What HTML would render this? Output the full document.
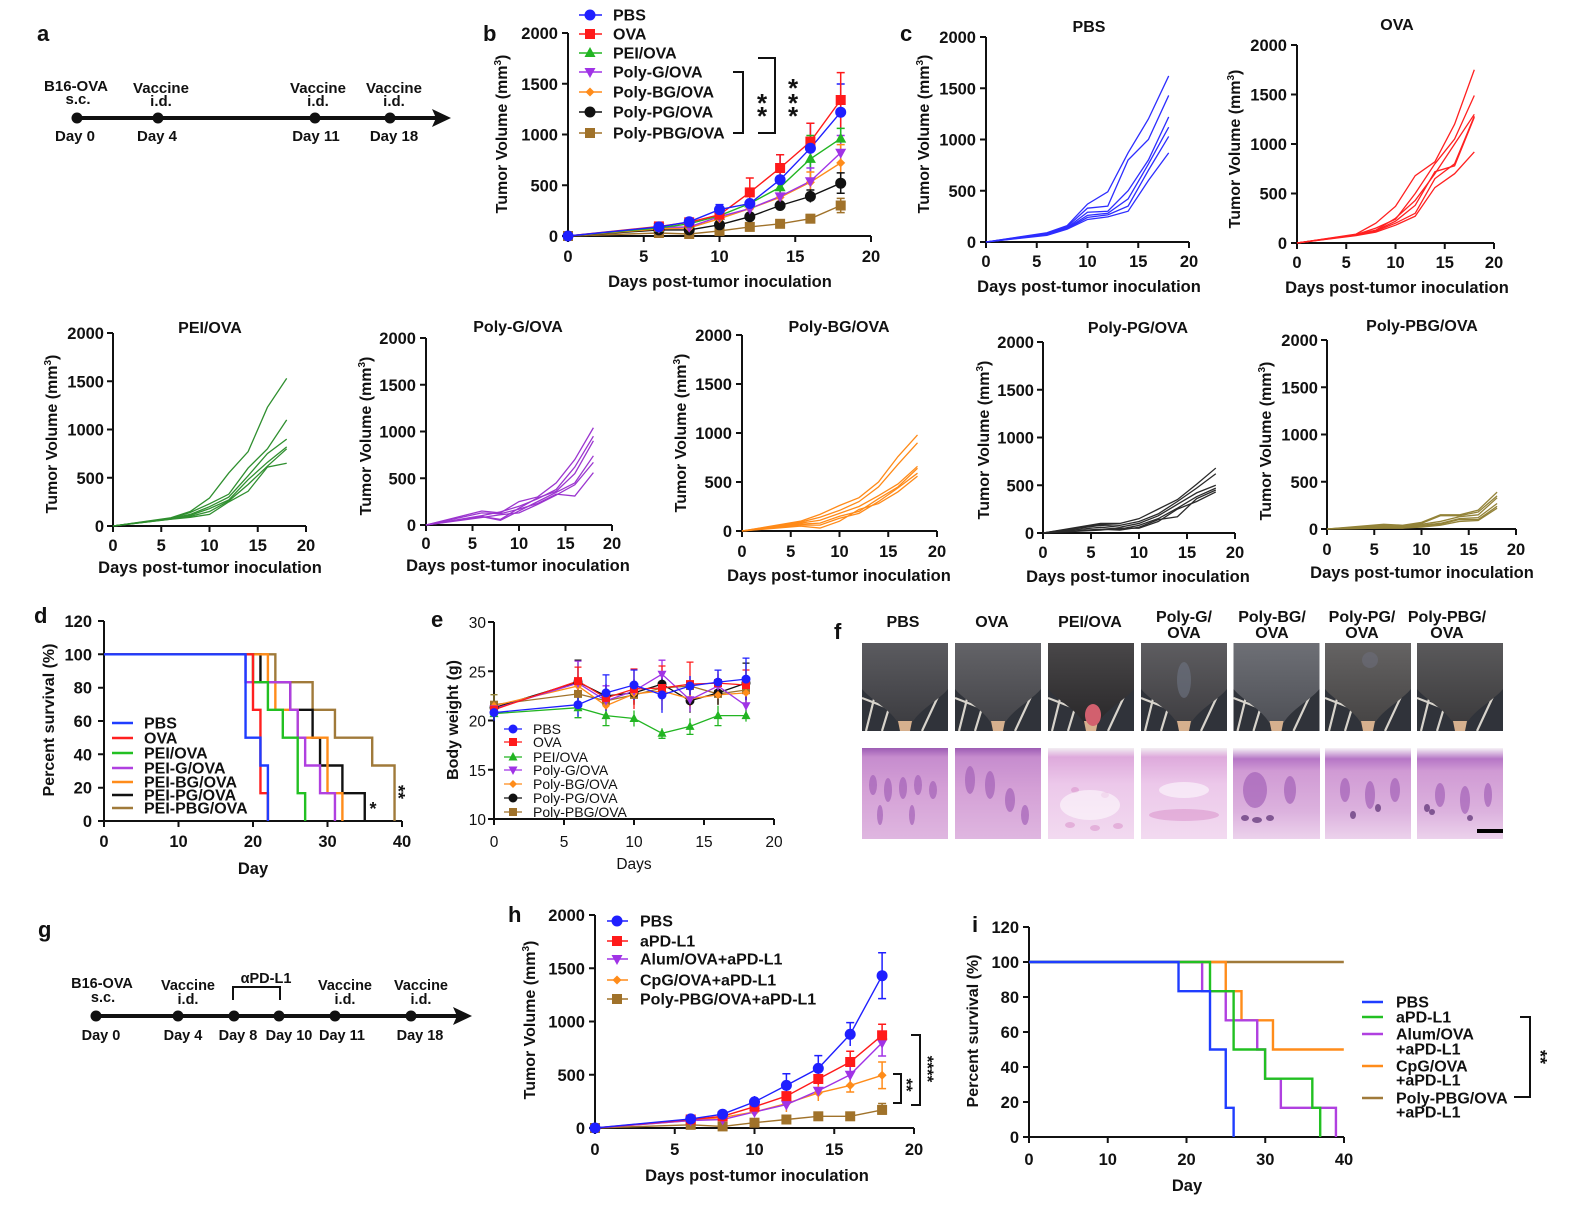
<!DOCTYPE html>
<html><head><meta charset="utf-8">
<style>
html,body{margin:0;padding:0;background:#fff;}
svg{display:block;}
text{font-family:"Liberation Sans",Arial,sans-serif;font-weight:bold;font-size:16.5px;fill:#111;}
.v *{vector-effect:non-scaling-stroke;}
.ax{stroke:#111;stroke-width:2;fill:none;}
.r{text-anchor:end;}
.m{text-anchor:middle;}
.n{font-weight:normal;}
.lg{font-size:16px;}
.at{font-size:16px;}
</style></head><body>
<svg width="1572" height="1215" viewBox="0 0 1572 1215" xmlns="http://www.w3.org/2000/svg">
<defs>
<circle id="mc" r="5.5"/>
<rect id="ms" x="-5" y="-5" width="10" height="10"/>
<path id="mtu" d="M0,-6 L5.5,4 L-5.5,4Z"/>
<path id="mtd" d="M0,6 L5.5,-4 L-5.5,-4Z"/>
<path id="mdi" d="M0,-4.5 L4.5,0 L0,4.5 L-4.5,0Z"/>
<circle id="ec" r="4.5"/>
<rect id="es" x="-4" y="-4" width="8" height="8"/>
<path id="etu" d="M0,-5 L4.5,3.5 L-4.5,3.5Z"/>
<path id="etd" d="M0,5 L4.5,-3.5 L-4.5,-3.5Z"/>
<path id="edi" d="M0,-4 L4,0 L0,4 L-4,0Z"/>
<linearGradient id="fur" x1="0" y1="0" x2="0" y2="1">
<stop offset="0" stop-color="#fff" stop-opacity="0.12"/><stop offset="1" stop-color="#000" stop-opacity="0.12"/></linearGradient>
<symbol id="ph" viewBox="0 0 86 88">
<rect width="86" height="88" fill="#30333a"/>
<path d="M4,88 L16,40 M20,88 L30,55 M60,88 L80,45 M0,55 L44,72" stroke="#d8d4cc" stroke-width="2.2" fill="none"/>
<path d="M0,0H86V46C76,58 58,66 50,80H36C28,66 10,58 0,46Z" fill="currentColor"/>
<path d="M0,0H86V46C76,58 58,66 50,80H36C28,66 10,58 0,46Z" fill="url(#fur)"/>
<path d="M36,78 H50 L48,88 H38 Z" fill="#d6b08e"/>
</symbol>
<linearGradient id="hg" x1="0" y1="0" x2="0" y2="1">
<stop offset="0" stop-color="#9c5cb4"/><stop offset="0.1" stop-color="#c68cce"/><stop offset="0.45" stop-color="#d4a0d6"/><stop offset="1" stop-color="#dfb6e0"/></linearGradient>
<linearGradient id="hg2" x1="0" y1="0" x2="0" y2="1">
<stop offset="0" stop-color="#f2eef2"/><stop offset="0.1" stop-color="#deaadc"/><stop offset="0.4" stop-color="#ecc8ea"/><stop offset="1" stop-color="#f2daf0"/></linearGradient>
<linearGradient id="hg3" x1="0" y1="0" x2="0" y2="1">
<stop offset="0" stop-color="#f6f2f6"/><stop offset="0.12" stop-color="#b676c6"/><stop offset="0.25" stop-color="#d09ad4"/><stop offset="0.7" stop-color="#dcb2de"/><stop offset="1" stop-color="#ecd2ec"/></linearGradient>
</defs>
<rect width="1572" height="1215" fill="#fff"/>

<!-- Panel labels -->
<text x="37" y="41" style="font-size:22px">a</text>
<text x="483" y="41" style="font-size:22px">b</text>
<text x="900" y="41" style="font-size:22px">c</text>
<text x="34" y="623" style="font-size:22px">d</text>
<text x="431" y="627" style="font-size:22px">e</text>
<text x="834" y="639" style="font-size:22px">f</text>
<text x="38" y="937" style="font-size:22px">g</text>
<text x="508" y="922" style="font-size:22px">h</text>
<text x="972" y="932" style="font-size:22px">i</text>

<!-- Panel a timeline -->
<g style="font-size:15px">
<line x1="77" y1="118" x2="438" y2="118" stroke="#111" stroke-width="4"/>
<path d="M432,109 L451,118 L432,127 L436,118Z" fill="#111"/>
<circle cx="77" cy="118" r="5.5" fill="#111"/><circle cx="158" cy="118" r="5.5" fill="#111"/><circle cx="315" cy="118" r="5.5" fill="#111"/><circle cx="390" cy="118" r="5.5" fill="#111"/>
<text class="m" x="76" y="91" style="font-size:15px">B16-OVA</text><text class="m" x="78" y="104" style="font-size:15px">s.c.</text>
<text class="m" x="161" y="93" style="font-size:15px">Vaccine</text><text class="m" x="161" y="106" style="font-size:15px">i.d.</text>
<text class="m" x="318" y="93" style="font-size:15px">Vaccine</text><text class="m" x="318" y="106" style="font-size:15px">i.d.</text>
<text class="m" x="394" y="93" style="font-size:15px">Vaccine</text><text class="m" x="394" y="106" style="font-size:15px">i.d.</text>
<text class="m" x="75" y="141" style="font-size:15px">Day 0</text><text class="m" x="157" y="141" style="font-size:15px">Day 4</text><text class="m" x="316" y="141" style="font-size:15px">Day 11</text><text class="m" x="394" y="141" style="font-size:15px">Day 18</text>
</g>

<!-- Panel b -->
<path class="ax" d="M568,33V236H871 M562,33H568 M562,83.75H568 M562,134.5H568 M562,185.25H568 M562,236H568 M568,236V242 M643.75,236V242 M719.5,236V242 M795.25,236V242 M871,236V242"/>
<text class="r" x="558" y="39">2000</text><text class="r" x="558" y="89.75">1500</text><text class="r" x="558" y="140.5">1000</text><text class="r" x="558" y="191.25">500</text><text class="r" x="558" y="242">0</text>
<text class="m" x="568" y="262">0</text><text class="m" x="643.75" y="262">5</text><text class="m" x="719.5" y="262">10</text><text class="m" x="795.25" y="262">15</text><text class="m" x="871" y="262">20</text>
<text class="m" x="720" y="287">Days post-tumor inoculation</text>
<text class="m at" transform="translate(507,134) rotate(-90)">Tumor Volume (mm<tspan dy="-6" style="font-size:10px">3</tspan><tspan dy="6">)</tspan></text>
<g fill="none" stroke-width="1.5">
<path stroke="#1f1fff" d="M719.5,204.6V214.7M715.5,204.6h8M749.8,195.4V211.6M745.8,195.4h8M780.1,154.8V204.5M776.1,154.8h8M810.4,123.3V173M806.4,123.3h8M840.7,84V140.6M836.7,84h8"/>
<path stroke="#ff1a1a" d="M749.8,178V207.4M745.8,178h8M780.1,154.8V181.2M776.1,154.8h8M810.4,123.3V159.8M806.4,123.3h8M840.7,72.6V127.4M836.7,72.6h8"/>
<path stroke="#22b522" d="M780.1,177V197.5M776.1,177h8M810.4,135.5V182.4M806.4,135.5h8M840.7,128.4V148.7M836.7,128.4h8"/>
<path stroke="#a033e6" d="M810.4,168V194.4M806.4,168h8M840.7,135.5V170M836.7,135.5h8"/>
<path stroke="#ff8c1a" d="M810.4,172V192M806.4,172h8M840.7,144.6V181.2M836.7,144.6h8"/>
<path stroke="#111" d="M810.4,190V202.5M806.4,190h8M840.7,172.9V193.2M836.7,172.9h8M836.7,193.2h8"/>
<path stroke="#a0722a" d="M810.4,214.6V222.8M806.4,214.6h8M840.7,198.4V212.6M836.7,198.4h8M836.7,212.6h8"/>
</g>
<g fill="none" stroke-width="1.4">
<polyline stroke="#a0722a" points="568,236 658.9,233 689.2,234 719.5,230.9 749.8,226.9 780.1,223.8 810.4,218.7 840.7,205.5"/>
<polyline stroke="#111" points="568,236 658.9,229.9 689.2,229.9 719.5,224.8 749.8,216.7 780.1,205.5 810.4,196.4 840.7,183.2"/>
<polyline stroke="#ff8c1a" points="568,236 658.9,228.9 689.2,227.9 719.5,218.7 749.8,208.6 780.1,197.4 810.4,182.2 840.7,162.9"/>
<polyline stroke="#a033e6" points="568,236 658.9,227.4 689.2,226.9 719.5,216.7 749.8,208.6 780.1,196.4 810.4,181.2 840.7,152.8"/>
<polyline stroke="#22b522" points="568,236 658.9,227.9 689.2,223.8 719.5,215.7 749.8,203.5 780.1,187.3 810.4,158.9 840.7,138.6"/>
<polyline stroke="#ff1a1a" points="568,236 658.9,226.4 689.2,222.3 719.5,214.7 749.8,192.4 780.1,168 810.4,141.6 840.7,100"/>
<polyline stroke="#1f1fff" points="568,236 658.9,226.9 689.2,221.8 719.5,209.6 749.8,203.5 780.1,179.7 810.4,148.2 840.7,112.2"/>
</g>
<g fill="#a0722a"><use href="#ms" x="568" y="236"/><use href="#ms" x="658.9" y="233"/><use href="#ms" x="689.2" y="234"/><use href="#ms" x="719.5" y="230.9"/><use href="#ms" x="749.8" y="226.9"/><use href="#ms" x="780.1" y="223.8"/><use href="#ms" x="810.4" y="218.7"/><use href="#ms" x="840.7" y="205.5"/></g>
<g fill="#111"><use href="#mc" x="658.9" y="229.9"/><use href="#mc" x="689.2" y="229.9"/><use href="#mc" x="719.5" y="224.8"/><use href="#mc" x="749.8" y="216.7"/><use href="#mc" x="780.1" y="205.5"/><use href="#mc" x="810.4" y="196.4"/><use href="#mc" x="840.7" y="183.2"/></g>
<g fill="#ff8c1a"><use href="#mdi" x="658.9" y="228.9"/><use href="#mdi" x="689.2" y="227.9"/><use href="#mdi" x="719.5" y="218.7"/><use href="#mdi" x="749.8" y="208.6"/><use href="#mdi" x="780.1" y="197.4"/><use href="#mdi" x="810.4" y="182.2"/><use href="#mdi" x="840.7" y="162.9"/></g>
<g fill="#a033e6"><use href="#mtd" x="658.9" y="227.4"/><use href="#mtd" x="689.2" y="226.9"/><use href="#mtd" x="719.5" y="216.7"/><use href="#mtd" x="749.8" y="208.6"/><use href="#mtd" x="780.1" y="196.4"/><use href="#mtd" x="810.4" y="181.2"/><use href="#mtd" x="840.7" y="152.8"/></g>
<g fill="#22b522"><use href="#mtu" x="658.9" y="227.9"/><use href="#mtu" x="689.2" y="223.8"/><use href="#mtu" x="719.5" y="215.7"/><use href="#mtu" x="749.8" y="203.5"/><use href="#mtu" x="780.1" y="187.3"/><use href="#mtu" x="810.4" y="158.9"/><use href="#mtu" x="840.7" y="138.6"/></g>
<g fill="#ff1a1a"><use href="#ms" x="658.9" y="226.4"/><use href="#ms" x="689.2" y="222.3"/><use href="#ms" x="719.5" y="214.7"/><use href="#ms" x="749.8" y="192.4"/><use href="#ms" x="780.1" y="168"/><use href="#ms" x="810.4" y="141.6"/><use href="#ms" x="840.7" y="100"/></g>
<g fill="#1f1fff"><use href="#mc" x="568" y="236"/><use href="#mc" x="658.9" y="226.9"/><use href="#mc" x="689.2" y="221.8"/><use href="#mc" x="719.5" y="209.6"/><use href="#mc" x="749.8" y="203.5"/><use href="#mc" x="780.1" y="179.7"/><use href="#mc" x="810.4" y="148.2"/><use href="#mc" x="840.7" y="112.2"/></g>
<g stroke-width="1.5">
<line x1="579" y1="15" x2="602" y2="15" stroke="#1f1fff"/><use href="#mc" x="590" y="15" fill="#1f1fff"/>
<line x1="579" y1="34" x2="602" y2="34" stroke="#ff1a1a"/><use href="#ms" x="590" y="34" fill="#ff1a1a"/>
<line x1="579" y1="53" x2="602" y2="53" stroke="#22b522"/><use href="#mtu" x="590" y="53" fill="#22b522"/>
<line x1="579" y1="72" x2="602" y2="72" stroke="#a033e6"/><use href="#mtd" x="590" y="72" fill="#a033e6"/>
<line x1="579" y1="92" x2="602" y2="92" stroke="#ff8c1a"/><use href="#mdi" x="590" y="92" fill="#ff8c1a"/>
<line x1="579" y1="112" x2="602" y2="112" stroke="#111"/><use href="#mc" x="590" y="112" fill="#111"/>
<line x1="579" y1="133" x2="602" y2="133" stroke="#a0722a"/><use href="#ms" x="590" y="133" fill="#a0722a"/>
</g>
<g class="lg"><text class="lg" x="613" y="20.5">PBS</text><text class="lg" x="613" y="39.5">OVA</text><text class="lg" x="613" y="58.5">PEI/OVA</text><text class="lg" x="613" y="77.5">Poly-G/OVA</text><text class="lg" x="613" y="97.5">Poly-BG/OVA</text><text class="lg" x="613" y="117.5">Poly-PG/OVA</text><text class="lg" x="613" y="138.5">Poly-PBG/OVA</text></g>
<path class="ax" d="M733,72H743V133H733 M758,58H775V133H758"/>
<g class="m"><text class="m" x="762" y="112" style="font-size:26px">*</text><text class="m" x="762" y="125" style="font-size:26px">*</text><text class="m" x="793" y="97" style="font-size:26px">*</text><text class="m" x="793" y="112" style="font-size:26px">*</text><text class="m" x="793" y="125" style="font-size:26px">*</text></g>

<!-- Titles -->
<g>
<text class="m" x="1089" y="32" style="font-size:16px">PBS</text>
<text class="m" x="1397" y="30" style="font-size:16px">OVA</text>
<text class="m" x="210" y="333" style="font-size:16px">PEI/OVA</text>
<text class="m" x="518" y="332" style="font-size:16px">Poly-G/OVA</text>
<text class="m" x="839" y="332" style="font-size:16px">Poly-BG/OVA</text>
<text class="m" x="1138" y="333" style="font-size:16px">Poly-PG/OVA</text>
<text class="m" x="1422" y="331" style="font-size:16px">Poly-PBG/OVA</text>
</g>

<!-- Panel c PBS -->
<path class="ax" d="M986,37V242H1189 M980,37H986 M980,88.25H986 M980,139.5H986 M980,190.75H986 M980,242H986 M986,242V248 M1036.75,242V248 M1087.5,242V248 M1138.25,242V248 M1189,242V248"/>
<text class="r" x="976" y="43">2000</text><text class="r" x="976" y="94.25">1500</text><text class="r" x="976" y="145.5">1000</text><text class="r" x="976" y="196.75">500</text><text class="r" x="976" y="248">0</text>
<text class="m" x="986" y="267">0</text><text class="m" x="1036.75" y="267">5</text><text class="m" x="1087.5" y="267">10</text><text class="m" x="1138.25" y="267">15</text><text class="m" x="1189" y="267">20</text>
<text class="m" x="1089" y="292">Days post-tumor inoculation</text>
<text class="m at" transform="translate(929,134) rotate(-90)">Tumor Volume (mm<tspan dy="-6" style="font-size:10px">3</tspan><tspan dy="6">)</tspan></text>
<g class="v" transform="translate(986,242) scale(10.15,-0.1025)" fill="none" stroke="#2d2dff" stroke-width="1.3">
<polyline points="0,0 6,90 8,160 10,370 12,490 14,870 16,1200 18,1620"/>
<polyline points="0,0 6,85 8,150 10,330 12,350 14,800 16,1000 18,1430"/>
<polyline points="0,0 6,80 8,140 10,290 12,300 14,500 16,800 18,1220"/>
<polyline points="0,0 6,75 8,135 10,260 12,280 14,420 16,760 18,1120"/>
<polyline points="0,0 6,70 8,130 10,240 12,265 14,350 16,700 18,1030"/>
<polyline points="0,0 6,65 8,125 10,220 12,245 14,300 16,600 18,870"/>
</g>

<!-- Panel c OVA -->
<path class="ax" d="M1297,45V243H1494 M1291,45H1297 M1291,94.5H1297 M1291,144H1297 M1291,193.5H1297 M1291,243H1297 M1297,243V249 M1346.25,243V249 M1395.5,243V249 M1444.75,243V249 M1494,243V249"/>
<text class="r" x="1287" y="51">2000</text><text class="r" x="1287" y="100.5">1500</text><text class="r" x="1287" y="150">1000</text><text class="r" x="1287" y="199.5">500</text><text class="r" x="1287" y="249">0</text>
<text class="m" x="1297" y="268">0</text><text class="m" x="1346.25" y="268">5</text><text class="m" x="1395.5" y="268">10</text><text class="m" x="1444.75" y="268">15</text><text class="m" x="1494" y="268">20</text>
<text class="m" x="1397" y="293">Days post-tumor inoculation</text>
<text class="m at" transform="translate(1240,149) rotate(-90)">Tumor Volume (mm<tspan dy="-6" style="font-size:10px">3</tspan><tspan dy="6">)</tspan></text>
<g class="v" transform="translate(1297,243) scale(9.85,-0.099)" fill="none" stroke="#ff2020" stroke-width="1.3">
<polyline points="0,0 6,90 8,200 10,370 12,680 14,820 16,1200 18,1750"/>
<polyline points="0,0 6,85 8,150 10,240 12,500 14,800 16,1050 18,1490"/>
<polyline points="0,0 6,85 8,130 10,250 12,430 14,700 16,1000 18,1300"/>
<polyline points="0,0 6,80 8,120 10,200 12,300 14,650 16,800 18,1280"/>
<polyline points="0,0 6,75 8,110 10,180 12,270 14,560 16,700 18,920"/>
<polyline points="0,0 6,80 8,125 10,220 12,380 14,720 16,780 18,1270"/>
</g>

<!-- PEI/OVA -->
<path class="ax" d="M113,333V526H306 M107,333H113 M107,381.25H113 M107,429.5H113 M107,477.75H113 M107,526H113 M113,526V532 M161.25,526V532 M209.5,526V532 M257.75,526V532 M306,526V532"/>
<text class="r" x="104" y="339">2000</text><text class="r" x="104" y="387.25">1500</text><text class="r" x="104" y="435.5">1000</text><text class="r" x="104" y="483.75">500</text><text class="r" x="104" y="532">0</text>
<text class="m" x="113" y="551">0</text><text class="m" x="161.25" y="551">5</text><text class="m" x="209.5" y="551">10</text><text class="m" x="257.75" y="551">15</text><text class="m" x="306" y="551">20</text>
<text class="m" x="210" y="573">Days post-tumor inoculation</text>
<text class="m at" transform="translate(57,434) rotate(-90)">Tumor Volume (mm<tspan dy="-6" style="font-size:10px">3</tspan><tspan dy="6">)</tspan></text>
<g class="v" transform="translate(113,526) scale(9.65,-0.0965)" fill="none" stroke="#2f8f2f" stroke-width="1.3">
<polyline points="0,0 6,85 8,150 10,290 12,550 14,770 16,1230 18,1530"/>
<polyline points="0,0 6,80 8,140 10,230 12,330 14,600 16,800 18,1100"/>
<polyline points="0,0 6,78 8,120 10,200 12,300 14,520 16,750 18,900"/>
<polyline points="0,0 6,75 8,110 10,180 12,270 14,480 16,660 18,820"/>
<polyline points="0,0 6,72 8,100 10,150 12,260 14,430 16,620 18,800"/>
<polyline points="0,0 6,70 8,90 10,120 12,250 14,360 16,610 18,650"/>
</g>

<!-- Poly-G/OVA -->
<path class="ax" d="M426,338V525H612 M420,338H426 M420,384.75H426 M420,431.5H426 M420,478.25H426 M420,525H426 M426,525V531 M472.5,525V531 M519,525V531 M565.5,525V531 M612,525V531"/>
<text class="r" x="416" y="344">2000</text><text class="r" x="416" y="390.75">1500</text><text class="r" x="416" y="437.5">1000</text><text class="r" x="416" y="484.25">500</text><text class="r" x="416" y="531">0</text>
<text class="m" x="426" y="549">0</text><text class="m" x="472.5" y="549">5</text><text class="m" x="519" y="549">10</text><text class="m" x="565.5" y="549">15</text><text class="m" x="612" y="549">20</text>
<text class="m" x="518" y="571">Days post-tumor inoculation</text>
<text class="m at" transform="translate(371,436) rotate(-90)">Tumor Volume (mm<tspan dy="-6" style="font-size:10px">3</tspan><tspan dy="6">)</tspan></text>
<g class="v" transform="translate(426,525) scale(9.3,-0.0935)" fill="none" stroke="#9b35cf" stroke-width="1.3">
<polyline points="0,0 6,150 8,130 10,250 12,300 14,450 16,700 18,1040"/>
<polyline points="0,0 6,100 8,140 10,200 12,280 14,380 16,620 18,950"/>
<polyline points="0,0 6,90 8,60 10,180 12,290 14,360 16,550 18,900"/>
<polyline points="0,0 6,90 8,50 10,150 12,250 14,350 16,450 18,740"/>
<polyline points="0,0 6,80 8,110 10,130 12,220 14,320 16,430 18,670"/>
<polyline points="0,0 6,130 8,120 10,170 12,230 14,330 16,310 18,560"/>
</g>

<!-- Poly-BG/OVA -->
<path class="ax" d="M742,335V531H937 M736,335H742 M736,384H742 M736,433H742 M736,482H742 M736,531H742 M742,531V537 M790.75,531V537 M839.5,531V537 M888.25,531V537 M937,531V537"/>
<text class="r" x="732" y="341">2000</text><text class="r" x="732" y="390">1500</text><text class="r" x="732" y="439">1000</text><text class="r" x="732" y="488">500</text><text class="r" x="732" y="537">0</text>
<text class="m" x="742" y="557">0</text><text class="m" x="790.75" y="557">5</text><text class="m" x="839.5" y="557">10</text><text class="m" x="888.25" y="557">15</text><text class="m" x="937" y="557">20</text>
<text class="m" x="839" y="581">Days post-tumor inoculation</text>
<text class="m at" transform="translate(686,433) rotate(-90)">Tumor Volume (mm<tspan dy="-6" style="font-size:10px">3</tspan><tspan dy="6">)</tspan></text>
<g class="v" transform="translate(742,531) scale(9.75,-0.098)" fill="none" stroke="#ff8a18" stroke-width="1.3">
<polyline points="0,0 6,100 8,170 10,260 12,340 14,500 16,760 18,980"/>
<polyline points="0,0 6,90 8,140 10,210 12,300 14,450 16,680 18,900"/>
<polyline points="0,0 6,80 8,110 10,180 12,250 14,360 16,480 18,660"/>
<polyline points="0,0 6,70 8,80 10,150 12,200 14,330 16,450 18,640"/>
<polyline points="0,0 6,60 8,60 10,130 12,180 14,300 16,440 18,590"/>
<polyline points="0,0 6,50 8,30 10,100 12,220 14,280 16,400 18,560"/>
</g>

<!-- Poly-PG/OVA -->
<path class="ax" d="M1043,342V533H1235 M1037,342H1043 M1037,389.75H1043 M1037,437.5H1043 M1037,485.25H1043 M1037,533H1043 M1043,533V539 M1091,533V539 M1139,533V539 M1187,533V539 M1235,533V539"/>
<text class="r" x="1034" y="348">2000</text><text class="r" x="1034" y="395.75">1500</text><text class="r" x="1034" y="443.5">1000</text><text class="r" x="1034" y="491.25">500</text><text class="r" x="1034" y="539">0</text>
<text class="m" x="1043" y="558">0</text><text class="m" x="1091" y="558">5</text><text class="m" x="1139" y="558">10</text><text class="m" x="1187" y="558">15</text><text class="m" x="1235" y="558">20</text>
<text class="m" x="1138" y="582">Days post-tumor inoculation</text>
<text class="m at" transform="translate(989,440) rotate(-90)">Tumor Volume (mm<tspan dy="-6" style="font-size:10px">3</tspan><tspan dy="6">)</tspan></text>
<g class="v" transform="translate(1043,533) scale(9.6,-0.0955)" fill="none" stroke="#2a2a2a" stroke-width="1.3">
<polyline points="0,0 6,100 8,100 10,150 12,250 14,350 16,510 18,680"/>
<polyline points="0,0 6,90 8,80 10,120 12,200 14,330 16,470 18,620"/>
<polyline points="0,0 6,80 8,60 10,100 12,180 14,300 16,420 18,500"/>
<polyline points="0,0 6,60 8,40 10,80 12,150 14,260 16,380 18,470"/>
<polyline points="0,0 6,40 8,30 10,60 12,140 14,170 16,360 18,450"/>
<polyline points="0,0 6,30 8,50 10,50 12,120 14,250 16,330 18,430"/>
</g>

<!-- Poly-PBG/OVA -->
<path class="ax" d="M1327,340V529H1516 M1321,340H1327 M1321,387.25H1327 M1321,434.5H1327 M1321,481.75H1327 M1321,529H1327 M1327,529V535 M1374.25,529V535 M1421.5,529V535 M1468.75,529V535 M1516,529V535"/>
<text class="r" x="1318" y="346">2000</text><text class="r" x="1318" y="393.25">1500</text><text class="r" x="1318" y="440.5">1000</text><text class="r" x="1318" y="487.75">500</text><text class="r" x="1318" y="535">0</text>
<text class="m" x="1327" y="555">0</text><text class="m" x="1374.25" y="555">5</text><text class="m" x="1421.5" y="555">10</text><text class="m" x="1468.75" y="555">15</text><text class="m" x="1516" y="555">20</text>
<text class="m" x="1422" y="578">Days post-tumor inoculation</text>
<text class="m at" transform="translate(1271,441) rotate(-90)">Tumor Volume (mm<tspan dy="-6" style="font-size:10px">3</tspan><tspan dy="6">)</tspan></text>
<g class="v" transform="translate(1327,529) scale(9.45,-0.0945)" fill="none" stroke="#938338" stroke-width="1.3">
<polyline points="0,0 6,50 8,40 10,70 12,150 14,150 16,200 18,390"/>
<polyline points="0,0 6,40 8,30 10,60 12,140 14,140 16,180 18,350"/>
<polyline points="0,0 6,30 8,20 10,50 12,80 14,130 16,150 18,330"/>
<polyline points="0,0 6,20 8,20 10,40 12,60 14,110 16,120 18,270"/>
<polyline points="0,0 6,10 8,10 10,30 12,50 14,100 16,100 18,240"/>
<polyline points="0,0 6,10 8,10 10,20 12,40 14,80 16,90 18,220"/>
</g>

<!-- Panel d -->
<path class="ax" d="M104,621V821H402 M98,621H104 M98,654.3H104 M98,687.7H104 M98,721H104 M98,754.3H104 M98,787.7H104 M98,821H104 M104,821V827 M178.5,821V827 M253,821V827 M327.5,821V827 M402,821V827"/>
<text class="r" x="92" y="627">120</text><text class="r" x="92" y="660.3">100</text><text class="r" x="92" y="693.7">80</text><text class="r" x="92" y="727">60</text><text class="r" x="92" y="760.3">40</text><text class="r" x="92" y="793.7">20</text><text class="r" x="92" y="827">0</text>
<text class="m" x="104" y="847">0</text><text class="m" x="178.5" y="847">10</text><text class="m" x="253" y="847">20</text><text class="m" x="327.5" y="847">30</text><text class="m" x="402" y="847">40</text>
<text class="m" x="253" y="874">Day</text>
<text class="m at" transform="translate(54,720) rotate(-90)">Percent survival (%)</text>
<g class="v" transform="translate(104,821) scale(7.45,-1.667)" fill="none" stroke-width="2.4">
<path stroke="#a07a3a" d="M0,100H23V83.3H28V66.7H31V50H36V33.3H39V0"/>
<path stroke="#111" d="M0,100H21V83.3H25V66.7H28V50H29V33.3H32V16.7H35V0"/>
<path stroke="#ff8c1a" d="M0,100H22V83.3H23V66.7H26V50H30V16.7H32V0"/>
<path stroke="#b040e0" d="M0,100H19V83.3H25V66.7H26V50H27V33.3H29V16.7H31V0"/>
<path stroke="#22c022" d="M0,100H20V83.3H22V66.7H24V50H26V16.7H27V0"/>
<path stroke="#ff2020" d="M0,100H20V66.7H21V16.7H22V0"/>
<path stroke="#1f3dff" d="M0,100H19V50H21V33.3H22V0"/>
</g>
<g stroke-width="2.4">
<line x1="112" y1="723" x2="133" y2="723" stroke="#1f3dff"/>
<line x1="112" y1="738" x2="133" y2="738" stroke="#ff2020"/>
<line x1="112" y1="753" x2="133" y2="753" stroke="#22c022"/>
<line x1="112" y1="768" x2="133" y2="768" stroke="#b040e0"/>
<line x1="112" y1="782" x2="133" y2="782" stroke="#ff8c1a"/>
<line x1="112" y1="795" x2="133" y2="795" stroke="#111"/>
<line x1="112" y1="808" x2="133" y2="808" stroke="#a07a3a"/>
</g>
<text class="lg" x="144" y="728.5">PBS</text><text class="lg" x="144" y="743.5">OVA</text><text class="lg" x="144" y="758.5">PEI/OVA</text><text class="lg" x="144" y="773.5">PEI-G/OVA</text><text class="lg" x="144" y="787.5">PEI-BG/OVA</text><text class="lg" x="144" y="800.5">PEI-PG/OVA</text><text class="lg" x="144" y="813.5">PEI-PBG/OVA</text>
<text class="m" x="373" y="815" style="font-size:18px">*</text>
<text class="m" transform="translate(392,792) rotate(90)" style="font-size:18px">**</text>

<!-- Panel e -->
<path class="ax" d="M494,622V819H774 M488,622H494 M488,671.25H494 M488,720.5H494 M488,769.75H494 M488,819H494 M494,819V825 M564,819V825 M634,819V825 M704,819V825 M774,819V825"/>
<text class="r n" x="486" y="628" style="font-size:15.5px">30</text><text class="r n" x="486" y="677.25" style="font-size:15.5px">25</text><text class="r n" x="486" y="726.5" style="font-size:15.5px">20</text><text class="r n" x="486" y="775.75" style="font-size:15.5px">15</text><text class="r n" x="486" y="825" style="font-size:15.5px">10</text>
<text class="m n" x="494" y="847" style="font-size:15.5px">0</text><text class="m n" x="564" y="847" style="font-size:15.5px">5</text><text class="m n" x="634" y="847" style="font-size:15.5px">10</text><text class="m n" x="704" y="847" style="font-size:15.5px">15</text><text class="m n" x="774" y="847" style="font-size:15.5px">20</text>
<text class="m n" x="634" y="869" style="font-size:15.5px">Days</text>
<text class="m at" transform="translate(458,720) rotate(-90)">Body weight (g)</text>
<g fill="none" stroke-width="1.3">
<path stroke="#938338" d="M494,694.7V714.7M490.5,694.7h7M578,683.9V703.9M574.5,683.9h7M606,690.8V710.8M634,684.9V704.9M662,678V698M690,676V696M718,683.9V703.9M746,680V700M742.5,680h7"/>
<path stroke="#ff8c1a" d="M578,676V696M606,695.7V715.7M634,683.9V703.9M662,681V701M690,688.8V708.8M718,684.9V704.9M746,682.9V702.9"/>
<path stroke="#111" d="M578,660.1V704.1M574.5,660.1h7M606,683.9V707.9M634,680.9V704.9M662,672.1V696.1M690,688.8V712.8M718,680.9V704.9M746,663.1V703.1M742.5,663.1h7"/>
<path stroke="#a033e6" d="M578,661.1V705.1M574.5,661.1h7M606,685.8V715.8M602.5,685.8h7M634,679V703M662,660.2V688.2M658.5,660.2h7M690,687.8V711.8M718,674V698M746,693.7V717.7M742.5,693.7h7"/>
<path stroke="#22b522" d="M494,707.6V719.6M578,697.7V717.7M574.5,717.7h7M606,705.6V725.6M602.5,725.6h7M634,710.5V726.5M662,728.3V738.3M658.5,738.3h7M690,718.4V734.4M686.5,734.4h7M718,705.6V725.6M714.5,725.6h7M746,709.6V721.6"/>
<path stroke="#ff1a1a" d="M494,701.7V717.7M578,667.1V695.1M574.5,667.1h7M606,685.9V709.9M634,669V709M630.5,669h7M662,666V710M658.5,666h7M690,662.1V706.1M686.5,662.1h7M718,671.1V695.1M746,670V700M742.5,670h7"/>
<path stroke="#1f1fff" d="M494,704.6V720.6M578,692.7V716.7M606,674.9V710.9M602.5,674.9h7M634,670V700M630.5,670h7M662,676.9V712.9M690,676V696M718,670.1V694.1M714.5,670.1h7M746,658.1V700.1M742.5,658.1h7"/>
</g>
<g fill="none" stroke-width="1.3">
<polyline stroke="#a0722a" points="494,704.7 578,693.9 606,700.8 634,694.9 662,688 690,686 718,693.9 746,690"/>
<polyline stroke="#111" points="494,707.7 578,682.1 606,695.9 634,692.9 662,684.1 690,700.8 718,692.9 746,683.1"/>
<polyline stroke="#ff8c1a" points="494,705.7 578,686 606,705.7 634,693.9 662,691 690,698.8 718,694.9 746,692.9"/>
<polyline stroke="#a033e6" points="494,708.7 578,683.1 606,700.8 634,691 662,674.2 690,699.8 718,686 746,705.7"/>
<polyline stroke="#22b522" points="494,713.6 578,707.7 606,715.6 634,718.5 662,733.3 690,726.4 718,715.6 746,715.6"/>
<polyline stroke="#ff1a1a" points="494,709.7 578,681.1 606,697.9 634,689 662,688 690,684.1 718,683.1 746,685"/>
<polyline stroke="#1f1fff" points="494,712.6 578,704.7 606,692.9 634,685 662,694.9 690,686 718,682.1 746,679.1"/>
</g>
<g fill="#a0722a"><use href="#es" x="494" y="704.7"/><use href="#es" x="578" y="693.9"/><use href="#es" x="606" y="700.8"/><use href="#es" x="634" y="694.9"/><use href="#es" x="662" y="688"/><use href="#es" x="690" y="686"/><use href="#es" x="718" y="693.9"/><use href="#es" x="746" y="690"/></g>
<g fill="#111"><use href="#ec" x="494" y="707.7"/><use href="#ec" x="578" y="682.1"/><use href="#ec" x="606" y="695.9"/><use href="#ec" x="634" y="692.9"/><use href="#ec" x="662" y="684.1"/><use href="#ec" x="690" y="700.8"/><use href="#ec" x="718" y="692.9"/><use href="#ec" x="746" y="683.1"/></g>
<g fill="#ff8c1a"><use href="#edi" x="494" y="705.7"/><use href="#edi" x="578" y="686"/><use href="#edi" x="606" y="705.7"/><use href="#edi" x="634" y="693.9"/><use href="#edi" x="662" y="691"/><use href="#edi" x="690" y="698.8"/><use href="#edi" x="718" y="694.9"/><use href="#edi" x="746" y="692.9"/></g>
<g fill="#a033e6"><use href="#etd" x="494" y="708.7"/><use href="#etd" x="578" y="683.1"/><use href="#etd" x="606" y="700.8"/><use href="#etd" x="634" y="691"/><use href="#etd" x="662" y="674.2"/><use href="#etd" x="690" y="699.8"/><use href="#etd" x="718" y="686"/><use href="#etd" x="746" y="705.7"/></g>
<g fill="#22b522"><use href="#etu" x="494" y="713.6"/><use href="#etu" x="578" y="707.7"/><use href="#etu" x="606" y="715.6"/><use href="#etu" x="634" y="718.5"/><use href="#etu" x="662" y="733.3"/><use href="#etu" x="690" y="726.4"/><use href="#etu" x="718" y="715.6"/><use href="#etu" x="746" y="715.6"/></g>
<g fill="#ff1a1a"><use href="#es" x="494" y="709.7"/><use href="#es" x="578" y="681.1"/><use href="#es" x="606" y="697.9"/><use href="#es" x="634" y="689"/><use href="#es" x="662" y="688"/><use href="#es" x="690" y="684.1"/><use href="#es" x="718" y="683.1"/><use href="#es" x="746" y="685"/></g>
<g fill="#1f1fff"><use href="#ec" x="494" y="712.6"/><use href="#ec" x="578" y="704.7"/><use href="#ec" x="606" y="692.9"/><use href="#ec" x="634" y="685"/><use href="#ec" x="662" y="694.9"/><use href="#ec" x="690" y="686"/><use href="#ec" x="718" y="682.1"/><use href="#ec" x="746" y="679.1"/></g>
<g stroke-width="1.3">
<line x1="504" y1="729" x2="522" y2="729" stroke="#1f1fff"/><use href="#ec" x="513" y="729" fill="#1f1fff"/>
<line x1="504" y1="742" x2="522" y2="742" stroke="#ff1a1a"/><use href="#es" x="513" y="742" fill="#ff1a1a"/>
<line x1="504" y1="757" x2="522" y2="757" stroke="#22b522"/><use href="#etu" x="513" y="757" fill="#22b522"/>
<line x1="504" y1="770" x2="522" y2="770" stroke="#a033e6"/><use href="#etd" x="513" y="770" fill="#a033e6"/>
<line x1="504" y1="784" x2="522" y2="784" stroke="#ff8c1a"/><use href="#edi" x="513" y="784" fill="#ff8c1a"/>
<line x1="504" y1="798" x2="522" y2="798" stroke="#111"/><use href="#ec" x="513" y="798" fill="#111"/>
<line x1="504" y1="812" x2="522" y2="812" stroke="#a0722a"/><use href="#es" x="513" y="812" fill="#a0722a"/>
</g>
<text class="n" x="533" y="734" style="font-size:14px">PBS</text><text class="n" x="533" y="747" style="font-size:14px">OVA</text><text class="n" x="533" y="762" style="font-size:14px">PEI/OVA</text><text class="n" x="533" y="775" style="font-size:14px">Poly-G/OVA</text><text class="n" x="533" y="789" style="font-size:14px">Poly-BG/OVA</text><text class="n" x="533" y="803" style="font-size:14px">Poly-PG/OVA</text><text class="n" x="533" y="817" style="font-size:14px">Poly-PBG/OVA</text>

<!-- Panel f -->
<g>
<text class="m lg" x="903" y="627">PBS</text>
<text class="m lg" x="992" y="627">OVA</text>
<text class="m lg" x="1090" y="627">PEI/OVA</text>
<text class="m lg" x="1184" y="622">Poly-G/</text><text class="m lg" x="1184" y="638">OVA</text>
<text class="m lg" x="1272" y="622">Poly-BG/</text><text class="m lg" x="1272" y="638">OVA</text>
<text class="m lg" x="1362" y="622">Poly-PG/</text><text class="m lg" x="1362" y="638">OVA</text>
<text class="m lg" x="1447" y="622">Poly-PBG/</text><text class="m lg" x="1447" y="638">OVA</text>
</g>
<use href="#ph" x="862" y="643" width="86" height="88" style="color:#45454a"/>
<use href="#ph" x="955" y="643" width="86" height="88" style="color:#4e4e53"/>
<use href="#ph" x="1048" y="643" width="86" height="88" style="color:#302e30"/>
<use href="#ph" x="1141" y="643" width="86" height="88" style="color:#48474b"/>
<use href="#ph" x="1233" y="643" width="87" height="88" style="color:#5a5c63"/>
<use href="#ph" x="1325" y="643" width="86" height="88" style="color:#504e4e"/>
<use href="#ph" x="1417" y="643" width="86" height="88" style="color:#444345"/>
<ellipse cx="1093" cy="715" rx="8" ry="11" fill="#d2606e"/>
<ellipse cx="1184" cy="680" rx="7" ry="18" fill="#6e7584" opacity="0.6"/>
<ellipse cx="1370" cy="660" rx="8" ry="8" fill="#6e7080" opacity="0.5"/>
<rect x="862" y="748" width="86" height="91" fill="url(#hg)"/>
<rect x="955" y="748" width="86" height="91" fill="url(#hg)"/>
<rect x="1048" y="748" width="86" height="91" fill="url(#hg2)"/>
<rect x="1141" y="748" width="86" height="91" fill="url(#hg2)"/>
<rect x="1233" y="748" width="87" height="91" fill="url(#hg3)"/>
<rect x="1325" y="748" width="86" height="91" fill="url(#hg3)"/>
<rect x="1417" y="748" width="86" height="91" fill="url(#hg3)"/>
<g fill="#a462b8" opacity="0.7">
<ellipse cx="873" cy="785" rx="4" ry="10"/><ellipse cx="888" cy="790" rx="4" ry="12"/><ellipse cx="903" cy="788" rx="4" ry="11"/><ellipse cx="918" cy="785" rx="4" ry="10"/><ellipse cx="933" cy="790" rx="4" ry="9"/>
<ellipse cx="880" cy="815" rx="3" ry="10"/><ellipse cx="912" cy="815" rx="3" ry="10"/>
<ellipse cx="970" cy="780" rx="5" ry="14"/><ellipse cx="990" cy="785" rx="5" ry="14"/><ellipse cx="1010" cy="800" rx="5" ry="12"/><ellipse cx="1025" cy="815" rx="4" ry="10"/>
<ellipse cx="1255" cy="790" rx="12" ry="18"/><ellipse cx="1290" cy="790" rx="6" ry="14"/>
<ellipse cx="1345" cy="790" rx="5" ry="12"/><ellipse cx="1370" cy="795" rx="5" ry="14"/><ellipse cx="1395" cy="790" rx="5" ry="12"/>
<ellipse cx="1440" cy="795" rx="5" ry="12"/><ellipse cx="1465" cy="800" rx="5" ry="14"/><ellipse cx="1488" cy="795" rx="4" ry="12"/>
</g>
<g fill="#d88cc8" opacity="0.5">
<ellipse cx="1075" cy="790" rx="4" ry="3"/><ellipse cx="1105" cy="795" rx="4" ry="3"/><ellipse cx="1070" cy="825" rx="5" ry="3"/><ellipse cx="1095" cy="828" rx="5" ry="3"/><ellipse cx="1118" cy="826" rx="5" ry="3"/>
<ellipse cx="1184" cy="815" rx="35" ry="6"/>
</g>
<g fill="#6a3f80" opacity="0.8">
<ellipse cx="1245" cy="818" rx="4" ry="3"/><ellipse cx="1257" cy="820" rx="5" ry="3"/><ellipse cx="1270" cy="818" rx="4" ry="3"/>
<ellipse cx="1353" cy="815" rx="3" ry="4"/><ellipse cx="1378" cy="808" rx="3" ry="4"/>
<ellipse cx="1427" cy="808" rx="3" ry="4"/><ellipse cx="1432" cy="812" rx="3" ry="3"/><ellipse cx="1470" cy="818" rx="3" ry="3"/>
</g>
<g fill="#ffffff" opacity="0.55">
<ellipse cx="1090" cy="805" rx="30" ry="15"/><ellipse cx="1184" cy="790" rx="25" ry="8"/>
</g>
<rect x="1477" y="829" width="26" height="4" fill="#000"/>

<!-- Panel g -->
<g>
<line x1="96" y1="1016" x2="462" y2="1016" stroke="#111" stroke-width="4"/>
<path d="M453,1007 L472,1016 L453,1025 L457,1016Z" fill="#111"/>
<circle cx="96" cy="1016" r="5.5" fill="#111"/><circle cx="178" cy="1016" r="5.5" fill="#111"/><circle cx="234" cy="1016" r="5.5" fill="#111"/><circle cx="279" cy="1016" r="5.5" fill="#111"/><circle cx="335" cy="1016" r="5.5" fill="#111"/><circle cx="411" cy="1016" r="5.5" fill="#111"/>
<path d="M233,1000V987H280V1000" fill="none" stroke="#111" stroke-width="2"/>
<text class="m" x="102" y="988" style="font-size:14.5px">B16-OVA</text><text class="m" x="103" y="1002" style="font-size:14.5px">s.c.</text>
<text class="m" x="188" y="990" style="font-size:14.5px">Vaccine</text><text class="m" x="188" y="1004" style="font-size:14.5px">i.d.</text>
<text class="m" x="266" y="983" style="font-size:14.5px">αPD-L1</text>
<text class="m" x="345" y="990" style="font-size:14.5px">Vaccine</text><text class="m" x="345" y="1004" style="font-size:14.5px">i.d.</text>
<text class="m" x="421" y="990" style="font-size:14.5px">Vaccine</text><text class="m" x="421" y="1004" style="font-size:14.5px">i.d.</text>
<text class="m" x="101" y="1040" style="font-size:14.5px">Day 0</text><text class="m" x="183" y="1040" style="font-size:14.5px">Day 4</text><text class="m" x="238" y="1040" style="font-size:14.5px">Day 8</text><text class="m" x="289" y="1040" style="font-size:14.5px">Day 10</text><text class="m" x="342" y="1040" style="font-size:14.5px">Day 11</text><text class="m" x="420" y="1040" style="font-size:14.5px">Day 18</text>
</g>

<!-- Panel h -->
<path class="ax" d="M595,915V1128H914 M589,915H595 M589,968.25H595 M589,1021.5H595 M589,1074.75H595 M589,1128H595 M595,1128V1134 M674.75,1128V1134 M754.5,1128V1134 M834.25,1128V1134 M914,1128V1134"/>
<text class="r" x="585" y="921">2000</text><text class="r" x="585" y="974.25">1500</text><text class="r" x="585" y="1027.5">1000</text><text class="r" x="585" y="1080.75">500</text><text class="r" x="585" y="1134">0</text>
<text class="m" x="595" y="1155">0</text><text class="m" x="674.75" y="1155">5</text><text class="m" x="754.5" y="1155">10</text><text class="m" x="834.25" y="1155">15</text><text class="m" x="914" y="1155">20</text>
<text class="m" x="757" y="1181">Days post-tumor inoculation</text>
<text class="m at" transform="translate(535,1020) rotate(-90)">Tumor Volume (mm<tspan dy="-6" style="font-size:10px">3</tspan><tspan dy="6">)</tspan></text>
<g fill="none" stroke-width="1.5">
<path stroke="#1f1fff" d="M754.5,1096V1108M786.4,1073.7V1096M782.4,1073.7h8M818.3,1055.6V1080M814.3,1055.6h8M850.2,1022.6V1046M846.2,1022.6h8M882.1,952.8V998.6M878.1,952.8h8M878.1,998.6h8"/>
<path stroke="#ff1a1a" d="M818.3,1071V1087M850.2,1051.3V1071.6M846.2,1051.3h8M882.1,1024.2V1047M878.1,1024.2h8"/>
<path stroke="#a033e6" d="M850.2,1066V1084M882.1,1030V1056M878.1,1056h8"/>
<path stroke="#ff8c1a" d="M786.4,1095V1112M818.3,1085V1101M850.2,1079V1092M846.2,1092h8M882.1,1062V1088.6M878.1,1062h8M878.1,1088.6h8"/>
<path stroke="#a0722a" d="M850.2,1112V1120M882.1,1103.5V1114M878.1,1103.5h8M878.1,1114h8"/>
</g>
<g fill="none" stroke-width="1.4">
<polyline stroke="#a0722a" points="595,1128 690.7,1124.8 722.6,1126.4 754.5,1122.7 786.4,1119.5 818.3,1116.3 850.2,1116.3 882.1,1109.9"/>
<polyline stroke="#ff8c1a" points="595,1128 690.7,1120.5 722.6,1117.4 754.5,1112 786.4,1103.5 818.3,1092.9 850.2,1085.4 882.1,1075.3"/>
<polyline stroke="#a033e6" points="595,1128 690.7,1120.5 722.6,1119.5 754.5,1112 786.4,1104.6 818.3,1090.7 850.2,1074.8 882.1,1042.8"/>
<polyline stroke="#ff1a1a" points="595,1128 690.7,1119.5 722.6,1116.3 754.5,1106.7 786.4,1096.1 818.3,1079 850.2,1062 882.1,1035.3"/>
<polyline stroke="#1f1fff" points="595,1128 690.7,1118.9 722.6,1114.2 754.5,1101.9 786.4,1085.4 818.3,1068.4 850.2,1034.3 882.1,975.7"/>
</g>
<g fill="#a0722a"><use href="#ms" x="595" y="1128"/><use href="#ms" x="690.7" y="1124.8"/><use href="#ms" x="722.6" y="1126.4"/><use href="#ms" x="754.5" y="1122.7"/><use href="#ms" x="786.4" y="1119.5"/><use href="#ms" x="818.3" y="1116.3"/><use href="#ms" x="850.2" y="1116.3"/><use href="#ms" x="882.1" y="1109.9"/></g>
<g fill="#ff8c1a"><use href="#mdi" x="690.7" y="1120.5"/><use href="#mdi" x="722.6" y="1117.4"/><use href="#mdi" x="754.5" y="1112"/><use href="#mdi" x="786.4" y="1103.5"/><use href="#mdi" x="818.3" y="1092.9"/><use href="#mdi" x="850.2" y="1085.4"/><use href="#mdi" x="882.1" y="1075.3"/></g>
<g fill="#a033e6"><use href="#mtd" x="690.7" y="1120.5"/><use href="#mtd" x="722.6" y="1119.5"/><use href="#mtd" x="754.5" y="1112"/><use href="#mtd" x="786.4" y="1104.6"/><use href="#mtd" x="818.3" y="1090.7"/><use href="#mtd" x="850.2" y="1074.8"/><use href="#mtd" x="882.1" y="1042.8"/></g>
<g fill="#ff1a1a"><use href="#ms" x="690.7" y="1119.5"/><use href="#ms" x="722.6" y="1116.3"/><use href="#ms" x="754.5" y="1106.7"/><use href="#ms" x="786.4" y="1096.1"/><use href="#ms" x="818.3" y="1079"/><use href="#ms" x="850.2" y="1062"/><use href="#ms" x="882.1" y="1035.3"/></g>
<g fill="#1f1fff"><use href="#mc" x="595" y="1128"/><use href="#mc" x="690.7" y="1118.9"/><use href="#mc" x="722.6" y="1114.2"/><use href="#mc" x="754.5" y="1101.9"/><use href="#mc" x="786.4" y="1085.4"/><use href="#mc" x="818.3" y="1068.4"/><use href="#mc" x="850.2" y="1034.3"/><use href="#mc" x="882.1" y="975.7"/></g>
<g stroke-width="1.5">
<line x1="607" y1="921" x2="628" y2="921" stroke="#1f1fff"/><use href="#mc" x="617" y="921" fill="#1f1fff"/>
<line x1="607" y1="941" x2="628" y2="941" stroke="#ff1a1a"/><use href="#ms" x="617" y="941" fill="#ff1a1a"/>
<line x1="607" y1="959" x2="628" y2="959" stroke="#a033e6"/><use href="#mtd" x="617" y="959" fill="#a033e6"/>
<line x1="607" y1="980" x2="628" y2="980" stroke="#ff8c1a"/><use href="#mdi" x="617" y="980" fill="#ff8c1a"/>
<line x1="607" y1="999" x2="628" y2="999" stroke="#a0722a"/><use href="#ms" x="617" y="999" fill="#a0722a"/>
</g>
<text class="lg" x="640" y="926.5">PBS</text><text class="lg" x="640" y="946.5">aPD-L1</text><text class="lg" x="640" y="964.5">Alum/OVA+aPD-L1</text><text class="lg" x="640" y="985.5">CpG/OVA+aPD-L1</text><text class="lg" x="640" y="1004.5">Poly-PBG/OVA+aPD-L1</text>
<path class="ax" d="M893,1074H901V1103H893 M911,1035H920V1105H911"/>
<text class="m" transform="translate(901,1085) rotate(90)" style="font-size:17px">**</text>
<text class="m" transform="translate(922,1069) rotate(90)" style="font-size:17px">****</text>

<!-- Panel i -->
<path class="ax" d="M1029,927V1137H1344 M1023,927H1029 M1023,962H1029 M1023,997H1029 M1023,1032H1029 M1023,1067H1029 M1023,1102H1029 M1023,1137H1029 M1029,1137V1143 M1107.75,1137V1143 M1186.5,1137V1143 M1265.25,1137V1143 M1344,1137V1143"/>
<text class="r" x="1019" y="933">120</text><text class="r" x="1019" y="968">100</text><text class="r" x="1019" y="1003">80</text><text class="r" x="1019" y="1038">60</text><text class="r" x="1019" y="1073">40</text><text class="r" x="1019" y="1108">20</text><text class="r" x="1019" y="1143">0</text>
<text class="m" x="1029" y="1165">0</text><text class="m" x="1107.75" y="1165">10</text><text class="m" x="1186.5" y="1165">20</text><text class="m" x="1265.25" y="1165">30</text><text class="m" x="1344" y="1165">40</text>
<text class="m" x="1187" y="1191">Day</text>
<text class="m at" transform="translate(978,1031) rotate(-90)">Percent survival (%)</text>
<g class="v" transform="translate(1029,1137) scale(7.87,-1.75)" fill="none" stroke-width="2.4">
<path stroke="#a07a3a" d="M0,100H40"/>
<path stroke="#ff8c1a" d="M0,100H25V83.3H27V66.7H31V50H40"/>
<path stroke="#b040e0" d="M0,100H22V83.3H25V66.7H29V50H30V33.3H32V16.7H39V0"/>
<path stroke="#22c022" d="M0,100H23V83.3H26V50H30V33.3H36V16.7H37V0"/>
<path stroke="#1f3dff" d="M0,100H19V83.3H23V50H25V16.7H26V0"/>
</g>
<g stroke-width="2.4">
<line x1="1362" y1="1002" x2="1383" y2="1002" stroke="#1f3dff"/>
<line x1="1362" y1="1017" x2="1383" y2="1017" stroke="#22c022"/>
<line x1="1362" y1="1034" x2="1383" y2="1034" stroke="#b040e0"/>
<line x1="1362" y1="1066" x2="1383" y2="1066" stroke="#ff8c1a"/>
<line x1="1362" y1="1098" x2="1383" y2="1098" stroke="#a07a3a"/>
</g>
<text class="lg" x="1396" y="1007.5">PBS</text><text class="lg" x="1396" y="1022.5">aPD-L1</text><text class="lg" x="1396" y="1039.5">Alum/OVA</text><text class="lg" x="1396" y="1054.5">+aPD-L1</text><text class="lg" x="1396" y="1071.5">CpG/OVA</text><text class="lg" x="1396" y="1085.5">+aPD-L1</text><text class="lg" x="1396" y="1103.5">Poly-PBG/OVA</text><text class="lg" x="1396" y="1117.5">+aPD-L1</text>
<path class="ax" d="M1520,1017H1530V1097H1514"/>
<text class="m" transform="translate(1534,1057) rotate(90)" style="font-size:18px">**</text>
</svg>
</body></html>
